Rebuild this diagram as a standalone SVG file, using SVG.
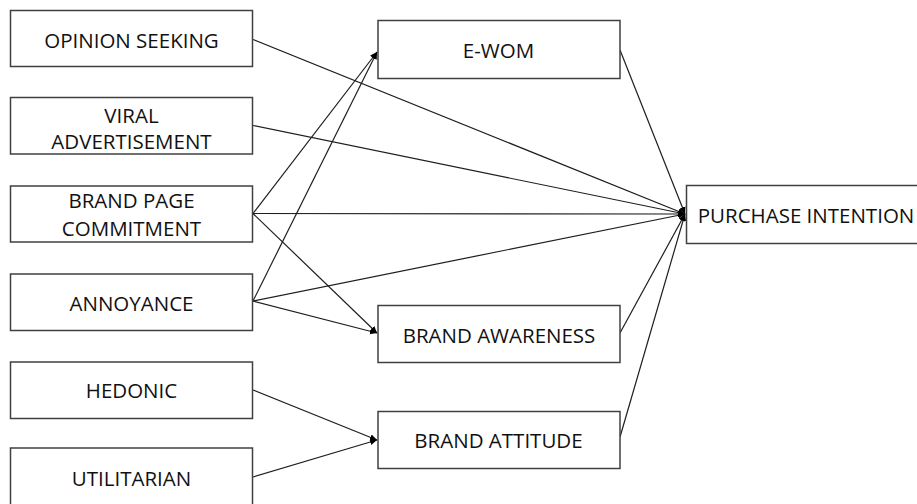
<svg xmlns="http://www.w3.org/2000/svg" width="917" height="504" viewBox="0 0 917 504">
<style>
.box{fill:#fff;stroke:#404040;stroke-width:1.5}
.lbl{font-family:"Open Sans","Liberation Sans",sans-serif;font-size:20.5px;fill:#111;text-anchor:middle;dominant-baseline:central}
.c{stroke:#1e1e1e;stroke-width:1.2;fill:none;marker-end:url(#ah)}
</style>
<defs>
<marker id="ah" markerWidth="8" markerHeight="8" refX="7" refY="4" orient="auto" markerUnits="userSpaceOnUse">
<path d="M0,0.8 L7,4 L0,7.2 Z" fill="#000"/>
</marker>
</defs>
<rect width="917" height="504" fill="#fff"/>
<g id="connectors">
<line class="c" x1="253" y1="39.5" x2="685" y2="214"/>
<line class="c" x1="253" y1="125.5" x2="685" y2="214"/>
<line class="c" x1="253" y1="213.5" x2="685" y2="214"/>
<line class="c" x1="253" y1="213.5" x2="377" y2="52"/>
<line class="c" x1="253" y1="213.5" x2="377" y2="333"/>
<line class="c" x1="253" y1="301" x2="377" y2="52"/>
<line class="c" x1="253" y1="301" x2="685" y2="214"/>
<line class="c" x1="253" y1="301" x2="377" y2="333"/>
<line class="c" x1="253" y1="390" x2="377" y2="440"/>
<line class="c" x1="253" y1="477" x2="377" y2="440"/>
<line class="c" x1="620" y1="50" x2="685" y2="214"/>
<line class="c" x1="620" y1="333" x2="685" y2="214"/>
<line class="c" x1="620" y1="437" x2="685" y2="214"/>
</g>
<g id="opinion-seeking"><rect class="box" x="10.5" y="10.5" width="242" height="56"/><text class="lbl" x="131.5" y="40">OPINION SEEKING</text></g>
<g id="viral-advertisement"><rect class="box" x="10.5" y="97.5" width="242" height="56.5"/><text class="lbl" x="131.5" y="114.5">VIRAL</text><text class="lbl" x="131.5" y="141">ADVERTISEMENT</text></g>
<g id="brand-page-commitment"><rect class="box" x="10.5" y="186" width="242" height="56"/><text class="lbl" x="131.5" y="200">BRAND PAGE</text><text class="lbl" x="131.5" y="227.5">COMMITMENT</text></g>
<g id="annoyance"><rect class="box" x="10.5" y="274" width="242" height="56.5"/><text class="lbl" x="131.5" y="303">ANNOYANCE</text></g>
<g id="hedonic"><rect class="box" x="10.5" y="362" width="242" height="56.5"/><text class="lbl" x="131.5" y="390">HEDONIC</text></g>
<g id="utilitarian"><rect class="box" x="10.5" y="448" width="242" height="60"/><text class="lbl" x="131.5" y="477.5">UTILITARIAN</text></g>
<g id="e-wom"><rect class="box" x="378" y="20.5" width="242" height="58"/><text class="lbl" x="498.5" y="50">E-WOM</text></g>
<g id="brand-awareness"><rect class="box" x="378" y="305.5" width="242" height="57"/><text class="lbl" x="499" y="335">BRAND AWARENESS</text></g>
<g id="brand-attitude"><rect class="box" x="378" y="411.5" width="242" height="57"/><text class="lbl" x="498.5" y="440">BRAND ATTITUDE</text></g>
<g id="purchase-intention"><rect class="box" x="686.5" y="185.5" width="250" height="58"/><text class="lbl" x="806" y="214.5">PURCHASE INTENTION</text></g>
</svg>
